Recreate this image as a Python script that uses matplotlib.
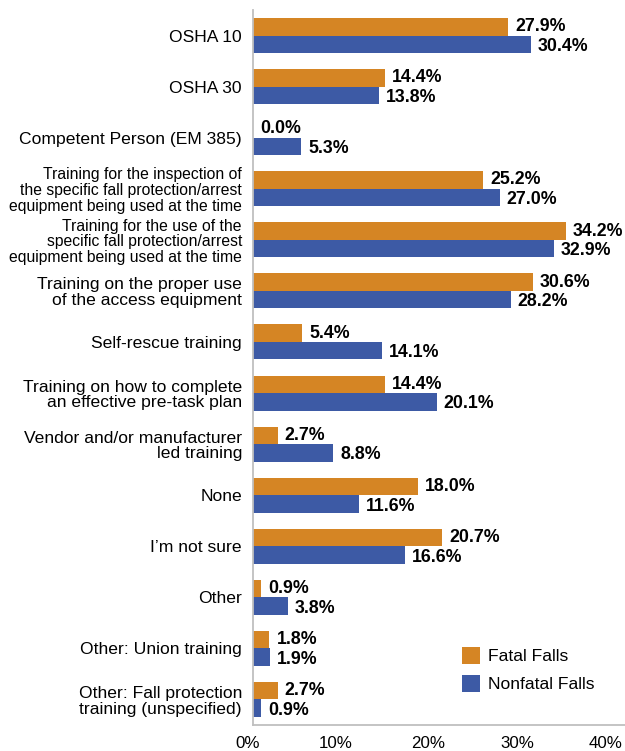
import numpy as np
import matplotlib
matplotlib.use('Agg')
import matplotlib.pyplot as plt

plt.rcParams['font.family'] = ['Liberation Sans', 'DejaVu Sans']

categories = [
    'OSHA 10',
    'OSHA 30',
    'Competent Person (EM 385)',
    'Training for the inspection of\nthe specific fall protection/arrest\nequipment being used at the time',
    'Training for the use of the\nspecific fall protection/arrest\nequipment being used at the time',
    'Training on the proper use\nof the access equipment',
    'Self-rescue training',
    'Training on how to complete\nan effective pre-task plan',
    'Vendor and/or manufacturer\nled training',
    'None',
    'I\u2019m not sure',
    'Other',
    'Other: Union training',
    'Other: Fall protection\ntraining (unspecified)',
]
fatal = [27.9, 14.4, 0.0, 25.2, 34.2, 30.6, 5.4, 14.4, 2.7, 18.0, 20.7, 0.9, 1.8, 2.7]
nonfatal = [30.4, 13.8, 5.3, 27.0, 32.9, 28.2, 14.1, 20.1, 8.8, 11.6, 16.6, 3.8, 1.9, 0.9]
xticks = [0, 10, 20, 30, 40]
xticklabels = ['0%', '10%', '20%', '30%', '40%']

ORANGE = '#D58524'
BLUE = '#3D5AA5'
W, H = 625, 751

fig = plt.figure(figsize=(W / 100, H / 100), dpi=100)
# plot area: left spine at x=253px, 9.14 px per percent, runs off the right edge
ax = fig.add_axes([253 / W, 1 - 725 / H, (W - 253) / W, 715 / H])

y = np.arange(len(categories))
h = 0.343
ax.barh(y - h / 2, fatal, height=h, color=ORANGE, label='Fatal Falls')
ax.barh(y + h / 2, nonfatal, height=h, color=BLUE, label='Nonfatal Falls')

for yi, v in zip(y, fatal):
    ax.annotate(f'{v:.1f}%', (v, yi - h / 2), xytext=(5, 0), textcoords='offset points',
                va='center', ha='left', fontsize=12.8, fontweight='bold')
for yi, v in zip(y, nonfatal):
    ax.annotate(f'{v:.1f}%', (v, yi + h / 2), xytext=(5, -1.5), textcoords='offset points',
                va='center', ha='left', fontsize=12.8, fontweight='bold')

ax.set_yticks(y)
ax.set_yticklabels(categories, linespacing=1.05)
for lab in ax.get_yticklabels():
    lab.set_fontsize(11.3 if lab.get_text().count('\n') == 2 else 12.6)
ax.set_ylim(len(categories) - 0.5, -0.5)
ax.set_xlim(0, (W - 253) / 9.14)
ax.set_xticks(xticks)
ax.set_xticklabels([])
# the reference's tick labels sit a little left of the bar scale
for t, txt, dx in zip(xticks, xticklabels, [-5, -9, -8, -10, -13]):
    ax.annotate(txt, (t, 0), xycoords=ax.get_xaxis_transform(),
                xytext=(dx * 0.72, -13), textcoords='offset points',
                ha='center', va='center', fontsize=12.2, annotation_clip=False)
ax.tick_params(axis='both', length=0)
ax.tick_params(axis='y', pad=8)
for s in ax.spines.values():
    s.set_color('#BFBFBF')
    s.set_linewidth(1.3)
ax.spines['top'].set_visible(False)
ax.spines['right'].set_visible(False)

ax.legend(loc='upper left', bbox_to_anchor=(462 / W, 1 - 647 / H),
          bbox_transform=fig.transFigure, frameon=False, borderpad=0,
          borderaxespad=0, fontsize=12.6, handlelength=1.05, handleheight=1.1,
          handletextpad=0.45, labelspacing=0.6)

fig.savefig('out.png', dpi=100)
